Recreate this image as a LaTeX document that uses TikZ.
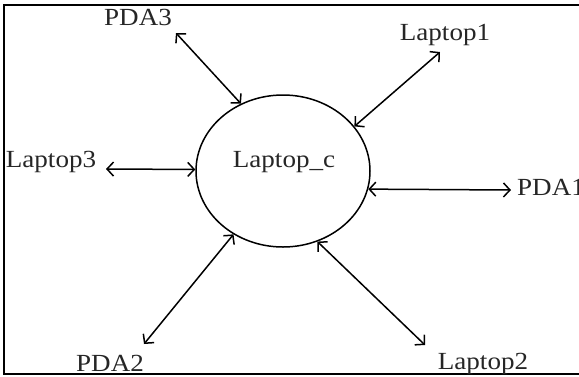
\documentclass[tikz,border=0pt]{standalone}
\usepackage{fontspec}
\setmainfont[FakeStretch=1.1]{Liberation Serif}
\usetikzlibrary{shapes.geometric,arrows.meta}

\begin{document}
\begin{tikzpicture}[x=1pt,y=-1pt,
  lbl/.style={inner sep=0pt,anchor=base,font=\fontsize{24.6}{28}\selectfont,text=black!85},
  hub/.style={draw,ellipse,line width=1.5pt,inner sep=0pt,minimum width=174pt,minimum height=152pt},
  link/.style={line width=1.5pt,{Straight Barb[length=6.5pt,width=14pt]}-{Straight Barb[length=6.5pt,width=14pt]}}
]
\clip (0,0) rectangle (579,376);
\fill[white] (0,0) rectangle (579,376);
% outer frame, its right side lies past the page edge
\draw[line width=1.5pt] (4,5) rectangle (620,374);

% central machine
\node[hub] (c) at (283,171) {};
\node[lbl] (cname) at (284,167) {Laptop\_c};

% surrounding devices
\node[lbl] (pda3) at (138,25) {PDA3};
\node[lbl] (lap1) at (445,40) {Laptop1};
\node[lbl] (lap3) at (51,167) {Laptop3};
\node[lbl,anchor=base west] (pda1) at (517,195) {PDA1};
\node[lbl] (pda2) at (110,371) {PDA2};
\node[lbl] (lap2) at (483,369) {Laptop2};

% outer ends of the links
\coordinate (e3) at (176,33);
\coordinate (e1) at (440,52);
\coordinate (el3) at (106,169);
\coordinate (ep1) at (511,190);
\coordinate (ep2) at (144,344);
\coordinate (el2) at (425,345);

\draw[link] (e3) -- (c.122);
\draw[link] (e1) -- (c.32);
\draw[link] (el3) -- (c.179);
\draw[link] (ep1) -- (c.-12.5);
\draw[link] (ep2) -- (c.-128);
\draw[link] (el2) -- (c.-64);
\end{tikzpicture}
\end{document}
